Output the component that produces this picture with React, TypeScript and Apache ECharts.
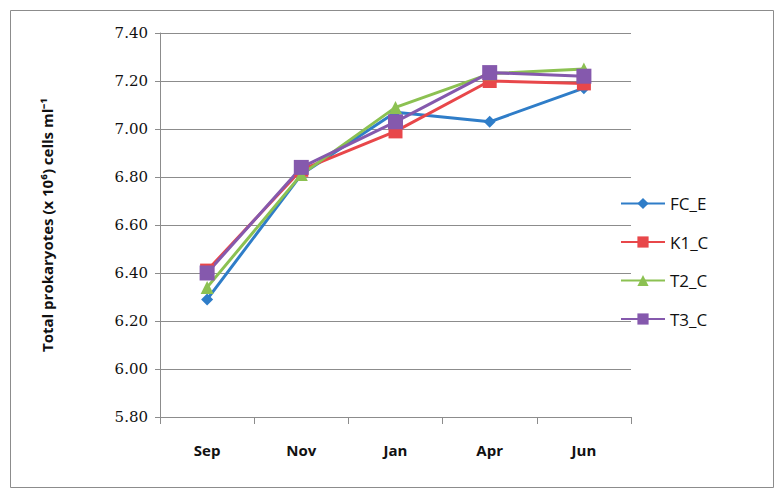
import React, { useEffect, useRef } from "react";
import * as echarts from "echarts";

const categories = ["Sep", "Nov", "Jan", "Apr", "Jun"];
const fcE = [6.29, 6.81, 7.07, 7.03, 7.17];
const k1C = [6.41, 6.83, 6.99, 7.2, 7.19];
const t2C = [6.34, 6.81, 7.09, 7.23, 7.25];
const t3C = [6.4, 6.84, 7.03, 7.235, 7.22];
const yTicks = { min: 5.8, max: 7.4, interval: 0.2 };

export default function App() {
  const ref = useRef<HTMLDivElement>(null);
  useEffect(() => {
    document.body.style.margin = "0";
    const chart = echarts.init(ref.current!, undefined, { renderer: "svg" });
    const mk = (name: string, data: number[], color: string, symbol: string, size: number) => ({
      name,
      type: "line",
      data,
      symbol,
      symbolSize: size,
      showSymbol: true,
      lineStyle: { color, width: 3 },
      itemStyle: { color, borderWidth: 0 },
    });
    chart.setOption({
      animation: false,
      backgroundColor: "#ffffff",
      graphic: [
        {
          type: "rect",
          shape: { x: 10.5, y: 10.5, width: 763, height: 477 },
          style: { fill: "none", stroke: "#8c8c8c", lineWidth: 1 },
        },
      ],
      grid: { left: 160, top: 33, width: 471, height: 384, containLabel: false },
      legend: {
        orient: "vertical",
        left: 615,
        top: 190,
        itemWidth: 44,
        itemHeight: 14,
        itemGap: 21.5,
        textStyle: { fontFamily: "Open Sans", fontSize: 17, color: "#111" },
        data: ["FC_E", "K1_C", "T2_C", "T3_C"],
      },
      xAxis: {
        type: "category",
        data: categories,
        boundaryGap: true,
        axisLine: { lineStyle: { color: "#8c8c8c", width: 1 } },
        axisTick: { show: true, length: 7, lineStyle: { color: "#8c8c8c" } },
        axisLabel: {
          margin: 25,
          fontFamily: "Open Sans",
          fontWeight: "bold",
          fontSize: 15,
          color: "#111",
        },
        splitLine: { show: false },
      },
      yAxis: {
        type: "value",
        min: yTicks.min,
        max: yTicks.max,
        interval: yTicks.interval,
        name: "Total prokaryotes (x 10\u2076) cells ml\u207B\u00B9",
        nameLocation: "middle",
        nameGap: 106,
        nameRotate: 90,
        nameTextStyle: {
          fontFamily: "Open Sans",
          fontWeight: "bold",
          fontSize: 15,
          color: "#111",
        },
        axisLine: { show: true, lineStyle: { color: "#8c8c8c", width: 1 } },
        axisTick: { show: true, length: 5, lineStyle: { color: "#8c8c8c" } },
        axisLabel: {
          margin: 12,
          fontFamily: "'DejaVu Serif', serif",
          fontSize: 15,
          color: "#111",
          formatter: (v: number) => v.toFixed(2),
        },
        splitLine: { show: true, lineStyle: { color: "#8c8c8c", width: 1 } },
      },
      series: [
        mk("FC_E", fcE, "#2f7dc8", "diamond", 12),
        mk("K1_C", k1C, "#e8474a", "rect", 14),
        mk("T2_C", t2C, "#8cc152", "triangle", 13),
        mk("T3_C", t3C, "#8559ad", "rect", 15),
      ],
    });
    return () => chart.dispose();
  }, []);
  return (
    <div
      ref={ref}
      style={{ position: "absolute", left: 0, top: 0, width: 782, height: 502 }}
    />
  );
}
